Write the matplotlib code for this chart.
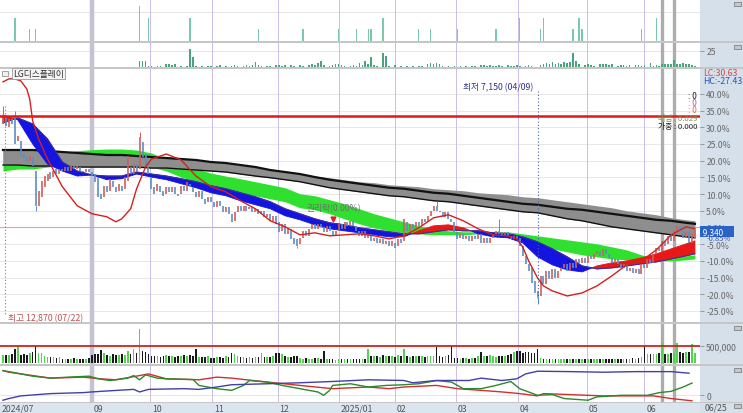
import numpy as np
import matplotlib.pyplot as plt
from matplotlib.patches import Rectangle

plt.rcParams['font.family'] = ['Noto Sans CJK KR', 'DejaVu Sans']

# ---------------- data ----------------
# daily candles, % from base price, trading-day index 0..233 (2024/07/22 .. 2025/06/25)
op = [31.0, 33.0, 30.0, 32.5, 33.5, 26.0, 26.0, 22.0, 21.0, 20.0,
      21.0, 17.0, 6.5, 9.0, 12.0, 14.0, 16.5, 15.0, 17.5, 16.0,
      17.5, 17.0, 18.0, 17.0, 18.5, 17.5, 18.0, 17.0, 16.5, 17.5,
      16.5, 16.0, 15.0, 10.0, 9.0, 12.5, 11.0, 14.0, 12.0, 11.0,
      12.5, 11.5, 14.0, 18.0, 16.0, 19.0, 17.5, 25.5, 22.0, 18.0,
      15.0, 12.0, 11.0, 12.5, 11.0, 10.0, 12.0, 10.5, 12.0, 10.0,
      10.0, 12.5, 11.0, 13.0, 12.0, 10.5, 9.0, 11.0, 8.5, 7.5,
      9.0, 7.5, 6.0, 8.0, 6.5, 4.5, 6.0, 4.0, 2.0, 4.5,
      6.5, 5.0, 6.5, 5.5, 6.0, 4.5, 5.5, 4.0, 5.0, 3.0,
      4.0, 2.0, 3.5, 1.5, -1.0, 1.0, -2.0, -0.5, -3.0, -3.5,
      -5.0, -3.0, -1.0, -2.5, -0.5, 1.0, -0.5, 1.0, 0.0, -1.5,
      0.5, -1.0, -2.5, -1.0, 1.0, -0.5, 1.5, 0.5, 2.0, 0.5,
      -1.0, -2.5, -1.0, -3.0, -2.0, -4.0, -3.0, -4.5, -3.5, -5.0,
      -4.0, -5.5, -4.5, -5.5, -3.5, -4.0, 1.5, -1.0, 1.0, -0.5,
      1.5, 0.5, 2.5, 1.5, 3.5, 5.0, 6.5, 5.0, 4.5, 3.0,
      4.5, 2.5, 1.5, -1.5, -3.0, -2.0, -3.5, -2.5, -4.0, -2.5,
      -3.5, -2.0, -4.5, -3.0, -4.5, -3.0, -2.0, -1.0, -1.5, -2.5,
      -1.5, -2.5, -3.5, -2.5, -3.0, -5.5, -8.5, -11.0, -12.0, -16.0,
      -19.0, -20.5, -14.5, -17.0, -13.0, -15.5, -12.5, -15.0, -13.0, -12.0,
      -11.0, -13.0, -10.5, -12.0, -9.5, -10.5, -9.0, -10.5, -8.5, -9.5,
      -8.0, -7.0, -8.5, -6.5, -8.0, -9.0, -10.5, -9.5, -11.0, -12.0,
      -11.0, -13.0, -12.0, -13.5, -12.5, -14.0, -11.0, -12.0, -9.5, -10.5,
      -8.0, -6.0, -7.0, -4.0, -5.0, -2.5, -4.0, -1.0, 0.5, -1.0,
      -3.0, -1.5, -4.5, -3.0]
cl = [33.0, 30.5, 32.5, 31.0, 25.0, 27.5, 21.5, 20.5, 19.5, 21.5,
      18.5, 6.5, 11.0, 14.0, 15.5, 16.0, 14.5, 17.0, 16.0, 17.5,
      17.0, 18.0, 17.0, 18.5, 17.5, 18.5, 17.0, 16.5, 17.5, 16.5,
      15.5, 13.5, 9.0, 8.5, 12.5, 10.5, 14.5, 12.0, 10.5, 13.0,
      11.0, 15.0, 21.5, 16.0, 19.0, 17.0, 27.0, 21.0, 18.5, 16.0,
      11.5, 10.0, 13.0, 10.5, 9.5, 12.0, 10.5, 12.0, 10.0, 9.5,
      12.5, 11.0, 13.5, 12.0, 10.5, 9.0, 11.0, 8.5, 7.0, 9.0,
      7.5, 6.0, 8.0, 6.5, 4.5, 6.0, 4.0, 1.5, 4.5, 6.5,
      5.0, 6.5, 5.0, 6.0, 4.5, 5.5, 4.0, 5.0, 3.0, 4.0,
      2.0, 3.5, 1.0, -1.5, 1.0, -2.0, -0.5, -3.5, -5.0, -5.5,
      -3.0, -1.0, -2.5, -0.5, 1.0, -0.5, 1.0, 0.0, -1.5, 0.5,
      -1.0, -2.5, -1.0, 1.0, -0.5, 1.5, 0.5, 2.0, 0.5, -1.0,
      -2.5, -1.0, -3.0, -2.0, -4.0, -3.0, -4.5, -3.5, -5.0, -4.0,
      -5.5, -4.0, -6.0, -3.5, -4.5, 2.5, -1.0, 1.0, -0.5, 1.5,
      0.5, 2.5, 1.5, 3.5, 5.0, 6.5, 5.0, 4.5, 3.0, 4.5,
      2.5, 1.5, -1.5, -3.5, -2.0, -3.5, -2.5, -4.0, -2.5, -3.5,
      -2.0, -4.5, -3.0, -4.5, -3.0, -2.0, -1.0, -2.0, -2.5, -1.5,
      -2.5, -3.5, -2.5, -3.5, -5.5, -8.5, -11.0, -13.0, -16.5, -19.5,
      -21.0, -14.5, -17.0, -13.0, -15.5, -12.5, -15.0, -13.0, -12.0, -11.0,
      -13.0, -10.5, -12.0, -9.5, -10.5, -9.0, -10.5, -8.5, -9.5, -8.0,
      -7.0, -8.5, -6.5, -8.0, -9.0, -10.5, -9.5, -11.0, -12.0, -11.0,
      -13.0, -12.0, -13.5, -12.5, -14.0, -11.0, -12.0, -9.5, -10.5, -8.0,
      -6.0, -7.0, -4.0, -5.5, -2.5, -4.0, -1.0, 0.5, -1.0, -3.0,
      -1.5, -4.5, -2.0, -0.8]
wick_hi = {0: 36.4, 4: 35.0, 46: 28.6, 146: 8.0, 167: 2.5}
wick_lo = {11: 5.0, 99: -6.0, 180: -22.9}

# volume (thousand shares)
vol = [230, 240, 230, 250, 400, 500, 230, 250, 240, 300,
       320, 490, 290, 280, 200, 170, 160, 170, 150, 160,
       120, 130, 110, 120, 140, 120, 110, 130, 120, 140,
       230, 250, 260, 380, 290, 230, 210, 250, 240, 230,
       260, 240, 340, 250, 400, 300, 980, 350, 330, 250,
       200, 190, 210, 180, 200, 220, 190, 200, 180, 210,
       200, 220, 190, 230, 210, 400, 180, 170, 160, 200,
       150, 140, 170, 160, 150, 200, 180, 290, 270, 200,
       180, 160, 150, 170, 140, 160, 170, 290, 160, 170,
       180, 200, 290, 300, 270, 200, 180, 170, 190, 200,
       150, 130, 140, 120, 130, 150, 140, 130, 340, 120,
       110, 120, 100, 120, 110, 130, 110, 120, 110, 120,
       120, 130, 110, 400, 210, 190, 200, 180, 220, 190,
       200, 190, 180, 220, 210, 400, 190, 180, 200, 210,
       190, 200, 180, 210, 190, 200, 460, 200, 180, 190,
       220, 490, 150, 140, 130, 150, 140, 130, 150, 140,
       200, 320, 210, 190, 220, 200, 180, 210, 200, 190,
       230, 260, 320, 350, 340, 300, 330, 320, 290, 300,
       400, 150, 130, 120, 110, 120, 110, 120, 130, 110,
       120, 110, 130, 120, 110, 120, 110, 130, 120, 110,
       120, 130, 110, 120, 130, 110, 120, 130, 110, 120,
       120, 130, 140, 120, 150, 160, 490, 260, 270, 250,
       260, 290, 580, 260, 270, 280, 300, 580, 320, 300,
       310, 320, 550, 300]

# moving-average bands, sampled every 5 trading days
band_idx = [0, 5, 10, 15, 20, 25, 30, 35, 40, 45, 50, 55, 60, 65, 70, 75,
            80, 85, 90, 95, 100, 105, 110, 115, 120, 125, 130, 135, 140, 145,
            150, 155, 160, 165, 170, 175, 180, 185, 190, 195, 200, 205, 210,
            215, 220, 225, 230, 233]
gray_top = [23.2, 23.2, 23.2, 22.9, 22.6, 22.3, 22.0, 21.7, 21.7, 21.4, 21.1, 20.8,
            20.5, 20.2, 19.6, 19.3, 18.7, 18.1, 17.5, 16.9, 16.3, 15.4, 14.9, 14.3,
            13.7, 13.4, 12.8, 12.5, 12.2, 11.6, 11.3, 11.0, 10.4, 10.1, 9.8, 9.2,
            8.9, 8.3, 7.7, 7.1, 6.5, 5.9, 5.0, 4.4, 3.8, 2.9, 2.3, 2.0]
gray_bot = [18.7, 18.7, 18.4, 18.4, 18.4, 18.1, 18.1, 18.1, 18.1, 18.1, 17.8, 17.8,
            17.5, 17.2, 16.9, 16.6, 16.0, 15.4, 14.9, 14.3, 13.7, 12.8, 11.9, 11.3,
            10.7, 10.1, 9.5, 9.2, 8.6, 8.0, 7.7, 7.1, 6.5, 5.9, 5.3, 4.7,
            4.4, 3.5, 2.6, 2.0, 1.1, 0.2, -0.4, -1.0, -1.6, -2.2, -2.8, -3.1]
ma_long = [23.2, 23.2, 23.2, 22.9, 22.6, 22.3, 22.0, 21.7, 21.7, 21.4, 21.1, 20.8,
           20.5, 20.2, 19.6, 19.3, 18.7, 18.1, 17.2, 16.6, 16.0, 15.1, 14.3, 13.7,
           13.1, 12.5, 11.9, 11.6, 11.0, 10.4, 10.1, 9.5, 8.9, 8.3, 7.7, 7.1,
           6.8, 6.2, 5.6, 5.3, 4.7, 4.1, 3.5, 2.9, 2.3, 2.0, 1.4, 1.1]
green_top = [23.5, 23.5, 23.2, 22.9, 22.6, 23.0, 23.3, 23.5, 23.5, 23.2, 22.3, 20.5,
             19.0, 17.5, 16.3, 15.4, 14.6, 13.7, 12.8, 11.9, 10.1, 9.5, 8.3, 7.1,
             5.6, 4.1, 2.9, 1.7, 0.5, -0.4, -1.0, -1.3, -1.3, -1.3, -1.3, -1.9,
             -2.5, -3.1, -3.7, -4.3, -4.9, -5.8, -6.7, -8.2, -9.4, -9.1, -8.5, -8.2]
green_bot = [16.9, 17.5, 17.5, 18.1, 18.7, 19.0, 19.3, 19.6, 19.6, 19.0, 18.1, 16.9,
             15.1, 13.7, 12.5, 11.6, 10.4, 9.5, 8.6, 7.7, 5.9, 5.3, 4.1, 2.6,
             1.1, -0.1, -1.0, -1.6, -1.9, -2.2, -2.2, -2.2, -1.9, -1.9, -2.2, -3.4,
             -5.2, -6.4, -7.3, -8.2, -8.8, -9.4, -9.7, -10.0, -10.0, -10.0, -9.7, -9.4]
ma_fast = [33.7, 32.2, 25.0, 19.0, 16.9, 15.4, 15.7, 14.3, 14.6, 16.0, 15.1, 14.3,
           13.1, 11.9, 10.4, 9.5, 8.0, 6.8, 5.6, 3.5, 2.3, 0.8, -0.4, -1.0,
           -1.6, -2.2, -2.8, -2.8, -1.0, 0.5, 0.8, -0.1, -1.9, -2.8, -3.1, -4.6,
           -8.8, -11.2, -12.7, -13.3, -11.5, -10.6, -10.0, -9.1, -7.9, -6.4, -4.9, -4.0]
ma_slow = [31.3, 32.8, 31.0, 26.5, 19.6, 16.9, 15.7, 15.4, 15.4, 16.6, 16.0, 15.4,
           14.6, 13.7, 12.5, 11.6, 10.4, 9.2, 7.7, 5.6, 4.1, 2.6, 1.4, 0.8,
           -0.1, -0.7, -1.3, -1.9, -1.9, -1.3, -0.7, -1.0, -1.0, -1.6, -1.9, -2.8,
           -4.3, -6.4, -8.8, -11.5, -12.4, -12.1, -11.5, -10.9, -10.3, -9.4, -8.5, -7.9]

# slow red envelope line
red_idx = [0, 2, 4, 6, 8, 9, 10, 12, 15, 20, 25, 30, 35, 38, 40, 43, 45, 48, 50, 55,
           60, 65, 70, 75, 80, 85, 90, 95, 100, 105, 110, 115, 120, 125, 130, 135, 140,
           145, 150, 155, 160, 165, 170, 173, 175, 177, 180, 182, 185, 190, 195, 200,
           205, 210, 215, 220, 225, 230, 233]
red_line = [43.6, 44.5, 44.5, 43.9, 41.5, 38.5, 31.9, 26.5, 20.5, 12.2,
            6.5, 4.1, 3.2, 1.7, 2.6, 5.6, 11.6, 18.1, 20.5, 22.0,
            20.2, 15.4, 12.2, 10.7, 8.0, 5.6, 2.0, 0.2, -2.2, -1.6,
            -2.5, -2.2, -1.9, -2.5, -3.4, -2.5, -0.1, 2.9, 3.8, 2.0,
            -0.4, -2.2, -2.5, -3.4, -5.8, -10.0, -15.1, -17.5, -19.0, -20.5,
            -19.6, -17.5, -14.5, -11.2, -10.0, -6.7, -2.2, 0.2, -0.4]

# top sparse signal bars
sig_idx = [4, 9, 11, 46, 49, 63, 86, 101, 113, 119, 123, 124, 128, 140, 144, 153,
           166, 174, 181, 182, 192, 194, 195, 215, 220]
sig_val = [2, 1, 1, 3, 2, 2, 1, 1, 1, 1, 1, 1, 2, 1, 1, 1,
           1, 2, 1, 2, 1, 2, 1, 1, 2]

# second small bar panel
sub_bars = [0] * 46 + [
    10, 10, 10, 2, 2, 0, 2, 2, 0, 4,
    5, 3, 5, 0, 2, 0, 2, 28, 16, 2,
    0, 2, 0, 2, 2, 0, 2, 3, 0, 2,
    0, 2, 3, 2, 0, 2, 3, 2, 3, 8,
    3, 2, 0, 2, 2, 0, 3, 3, 2, 3,
    0, 3, 2, 0, 3, 2, 0, 3, 5, 3,
    6, 10, 3, 0, 2, 3, 5, 4, 3, 2,
    0, 2, 3, 2, 6, 3, 10, 4, 15, 3,
    2, 0, 22, 17, 2, 0, 3, 0, 2, 0,
    2, 0, 2, 0, 2, 2, 0, 5, 6, 5,
    6, 5, 2, 0, 2, 0, 2, 0, 2, 0,
    2, 0, 2, 2, 0, 3, 3, 2, 3, 2,
    2, 3, 2, 0, 3, 2, 2, 3, 2, 0,
    2, 3, 2, 0, 0, 3, 5, 6, 5, 8,
    5, 6, 5, 8, 6, 8, 21, 9, 5, 0,
    3, 4, 3, 2, 0, 4, 5, 4, 3, 5,
    0, 2, 3, 3, 2, 3, 0, 3, 3, 2,
    3, 0, 6, 2, 3, 2, 4, 5, 4, 5,
    11, 4, 5, 6, 5, 4, 3, 2]

# bottom indicator lines
ind_red_idx = [0, 2, 10, 16, 27, 33, 38, 46, 49, 55, 66, 72, 77, 89, 100, 111, 123,
               130, 135, 146, 153, 161, 168, 174, 180, 182, 191, 202, 213, 219, 225, 232]
ind_red = [25.0, 23.4, 20.0, 17.4, 18.4, 16.7, 15.7, 20.0, 21.7, 16.7, 15.7, 18.4, 17.4,
           13.4, 10.0, 6.7, 8.4, 6.7, 8.4, 10.0, 6.7, 5.0, 3.4, 1.7, -0.6, 1.7, 0.7,
           -0.6, -0.6, -0.6, -3.3, -5.6]
ind_green_idx = [0, 2, 10, 16, 22, 29, 32, 36, 42, 44, 46, 48, 52, 55, 64, 66, 72, 77,
                 81, 83, 89, 94, 100, 103, 106, 108, 110, 111, 117, 123, 129, 135, 140,
                 146, 151, 155, 161, 166, 171, 174, 180, 185, 189, 197, 200, 208, 217,
                 221, 225, 229, 232]
ind_green = [25.0, 24.0, 19.4, 17.4, 18.4, 19.4, 16.7, 15.0, 17.4, 20.0,
             15.7, 20.7, 17.4, 16.7, 16.0, 10.0, 6.7, 5.0, 10.0, 15.0,
             13.4, 10.0, 6.7, 5.0, 3.4, 0.0, 5.0, 10.0, 11.7, 8.4,
             10.0, 10.7, 11.7, 15.0, 13.4, 6.7, 6.7, 10.0, 14.0, 6.7,
             0.0, 0.7, -3.3, -5.0, -1.6, 0.0, 0.0, 2.7, 4.0, 8.4, 12.4]
ind_blue_idx = [0, 2, 6, 16, 27, 30, 33, 44, 46, 49, 61, 66, 72, 77, 89, 100, 111, 123,
                135, 138, 146, 157, 161, 168, 173, 176, 180, 191, 202, 213, 225, 231]
ind_blue = [-5.0, -3.3, -0.6, 1.7, 2.7, 3.4, 4.0, 6.0, 3.4, 6.0, 6.7, 6.0, 8.4, 10.7,
            11.7, 12.7, 14.0, 15.7, 15.0, 12.7, 15.0, 15.0, 17.4, 15.0, 16.7, 21.7,
            24.4, 24.0, 23.4, 24.0, 24.0, 22.4]

month_pos = [30, 49.5, 70.5, 92.5, 113, 132, 152.5, 173.5, 196.5, 216]
month_lbl = ['09', '10', '11', '12', '2025/01', '02', '03', '04', '05', '06']
mark_pos = [222, 226]
pct_ticks = [40, 35, 30, 25, 20, 15, 10, 5, 0, -5, -10, -15, -20, -25]

# ---------------- figure ----------------
W, H = 743, 414
fig = plt.figure(figsize=(7.43, 4.14), dpi=100)
fig.patch.set_facecolor('white')


def box(x0, y0, x1, y1):
    # axes placed in pixel coordinates of the reference
    return fig.add_axes([x0 / W, 1 - y1 / H, (x1 - x0) / W, (y1 - y0) / H])


def ftext(x, y, s, **kw):
    kw.setdefault('va', 'center')
    return fig.text(x / W, 1 - y / H, s, **kw)


def frect(x0, y0, x1, y1, color, z=-5, ec='none', lw=0):
    fig.add_artist(Rectangle((x0 / W, 1 - y1 / H), (x1 - x0) / W, (y1 - y0) / H,
                             transform=fig.transFigure, facecolor=color,
                             edgecolor=ec, lw=lw, zorder=z))


days = np.arange(len(cl))
op = np.array(op)
cl = np.array(cl)
up = cl >= op

ax1 = box(0, 0, 700, 41.7)
ax2 = box(0, 43.7, 700, 68)
ax3 = box(0, 69.5, 700, 323)
ax4 = box(0, 325, 700, 365)
ax5 = box(0, 367, 700, 402.5)
axx = box(0, 403.5, 700, 414)
panels = [ax1, ax2, ax3, ax4, ax5]

tick_kw = dict(direction='out', length=3, width=0.6, color='#8a8a8a',
               labelsize=6.2, labelcolor='#666666', pad=1.5)
for ax in panels + [axx]:
    ax.set_xlim(-1.0, 234.7)
    for s in ax.spines.values():
        s.set_visible(False)
    ax.tick_params(axis='x', bottom=False, labelbottom=False)
    ax.yaxis.tick_right()
    ax.tick_params(axis='y', **tick_kw)
    ax.set_facecolor('white')

for ax in panels:
    for m in month_pos[1:]:
        ax.axvline(m, color='#cdbde8', lw=0.7, zorder=0.6)
    ax.axvline(month_pos[0], color='#c4c2d3', lw=3.2, zorder=0.6)
    for g in mark_pos:
        ax.axvline(g, color='#adadad', lw=2.4, zorder=0.6)

# top signal bars
ax1.set_ylim(0, 3.62)
ax1.set_yticks([])
ax1.axhline(2.5, color='#e2e2e2', lw=0.6, zorder=0.5)
ax1.bar(sig_idx, sig_val, width=0.5, color='#7cc9aa', zorder=2)

# small bars
ax2.set_ylim(0, 37.5)
ax2.set_yticks([25])
ax2.set_yticklabels(['25'])
ax2.axhline(25, color='#e2e2e2', lw=0.6, zorder=0.5)
ax2.bar(days, sub_bars, width=0.55, color='#4aa57e', zorder=2)

# main price panel
ax3.set_ylim(-28.3, 47.6)
ax3.set_yticks(pct_ticks)
ax3.set_yticklabels([f'{t:.1f}%' for t in pct_ticks])
for t in pct_ticks:
    ax3.axhline(t, color='#e4e4e4', lw=0.6, zorder=0.5)

ax3.fill_between(band_idx, green_top, green_bot, color='#2fe02f', lw=0, zorder=2)
ax3.fill_between(band_idx, gray_top, gray_bot, color='#8e8e8e', lw=0, zorder=2.5)
ax3.plot(band_idx, ma_long, color='#111111', lw=1.6, zorder=3)
ax3.plot(band_idx, gray_bot, color='#111111', lw=1.0, zorder=3)

fast = np.array(ma_fast)
slow = np.array(ma_slow)
ax3.fill_between(band_idx, fast, slow, where=fast >= slow, interpolate=True,
                 color='#e81818', lw=0.6, zorder=4)
ax3.fill_between(band_idx, fast, slow, where=fast < slow, interpolate=True,
                 color='#1414e0', lw=0.6, zorder=4)
ax3.plot(band_idx, slow, color='#40309a', lw=0.8, zorder=4.2)

# candles
c_col = np.where(up, '#d0605a', '#5b8ec6')
ax3.vlines(days, np.minimum(op, cl), np.maximum(op, cl), colors=c_col, lw=1.2, zorder=5)
for k, v in wick_hi.items():
    ax3.vlines(k, max(op[k], cl[k]), v, colors=c_col[k], lw=0.7, zorder=5)
for k, v in wick_lo.items():
    ax3.vlines(k, v, min(op[k], cl[k]), colors=c_col[k], lw=0.7, zorder=5)

ax3.plot(red_idx, red_line, color='#d42020', lw=1.0, zorder=6)
ax3.axhline(33.4, color='#e01818', lw=1.8, zorder=6.5)
ax3.axhline(0, color='#eaa0a0', lw=0.8, zorder=1)

# high / low markers
ax3.plot([0.7, 0.7], [36.4, -26.0], color='#d06060', lw=0.8, ls=(0, (1, 2)), zorder=6)
ax3.text(1.8, -26.9, '최고 12,870 (07/22)', fontsize=6.3, color='#c05050',
         va='center', ha='left', zorder=7)
ax3.plot([180.1, 180.1], [41.0, -22.9], color='#4060b0', lw=0.8, ls=(0, (1, 2)), zorder=6)
ax3.text(178.6, 42.1, '최저 7,150 (04/09)', fontsize=6.3, color='#303090',
         va='center', ha='right', zorder=7)
ax3.text(102.4, 5.9, '권리락(0.00%)', fontsize=6.3, color='#707070',
         va='center', ha='left', zorder=7)
ax3.plot([111.1], [2.6], marker='v', color='#e02020', ms=3.5, zorder=7)

# right-side summary texts inside the price panel
ax3.text(233.7, 39.6, ': 0', fontsize=6.0, color='#202020', ha='right', va='center', zorder=7)
ax3.text(233.7, 37.4, ': 0', fontsize=6.0, color='#d040c0', ha='right', va='center', zorder=7)
ax3.text(233.7, 35.2, ': 0', fontsize=6.0, color='#e06060', ha='right', va='center', zorder=7)
ax3.text(233.7, 32.9, '매입 : 0.029', fontsize=5.6, color='#7a9a5a', ha='right', va='center', zorder=7)
ax3.text(233.7, 30.5, '가중 : 0.000', fontsize=5.6, color='#202020', ha='right', va='center', zorder=7)

# volume
ax4.set_ylim(-28.9, 1127)
ax4.set_yticks([500])
ax4.set_yticklabels(['500,000'])
v_col = np.where(up, '#4fd64f', '#1a1a1a')
ax4.bar(days, vol, width=0.55, color=v_col, zorder=2)
ax4.axhline(500, color='#d42020', lw=1.3, zorder=3)

# indicator lines
ax5.set_ylim(-6.3, 29.7)
ax5.set_yticks([0])
ax5.set_yticklabels(['0'])
ax5.axhline(0, color='#e2e2e2', lw=0.6, zorder=0.5)
ax5.plot(ind_red_idx, ind_red, color='#d03030', lw=1.0, zorder=3)
ax5.plot(ind_green_idx, ind_green, color='#2a8a2a', lw=1.0, zorder=3)
ax5.plot(ind_blue_idx, ind_blue, color='#4040a8', lw=1.0, zorder=3)

# date band
axx.set_facecolor('#dbe5ef')
axx.set_ylim(0, 1)
axx.set_yticks([])
axx.text(-0.6, 0.45, '2024/07', fontsize=6.3, color='#555555', va='center', ha='left')
for m, lbl in zip(month_pos, month_lbl):
    axx.text(m + 0.6, 0.45, lbl, fontsize=6.3, color='#555555', va='center', ha='left')

# frame pieces: right strip, separators
frect(700, 0, 743, 414, '#d5e0eb')
for y0, y1 in [(41.7, 43.7), (68, 69.5), (323, 325), (365, 367), (402.5, 403.5)]:
    frect(0, y0, 743, y1, '#c6c6c6', z=10)
frect(0, 0, 743, 0.8, '#b0b0b0', z=10)
for y in [3, 46, 327, 369, 405]:
    frect(734, y, 741, y + 4, '#c8c8c8', z=11, ec='#707070', lw=0.5)

ftext(703, 73, 'LC:30.63', fontsize=6.3, color='#d04848')
ftext(703, 81, 'HC:-27.43', fontsize=6.3, color='#3050c0')
ftext(705, 408.5, '06/25', fontsize=6.3, color='#555555')
ftext(701, 232.5, ' 9,340      ', fontsize=5.8, color='white', zorder=12,
      bbox=dict(boxstyle='square,pad=0.08', fc='#2a62c8', ec='none'))
ftext(707, 238.8, '-0.85%', fontsize=5.4, color='#2a52b8', zorder=12)

# panel title
frect(2, 72, 8, 77, '#f0f0f0', z=11, ec='#808080', lw=0.5)
ftext(13, 74.5, 'LG디스플레이', fontsize=6.3, color='#303030', zorder=12,
      bbox=dict(boxstyle='square,pad=0.15', fc='#f4f4f4', ec='#9a9a9a', lw=0.6))

fig.savefig('out.png', dpi=100)
